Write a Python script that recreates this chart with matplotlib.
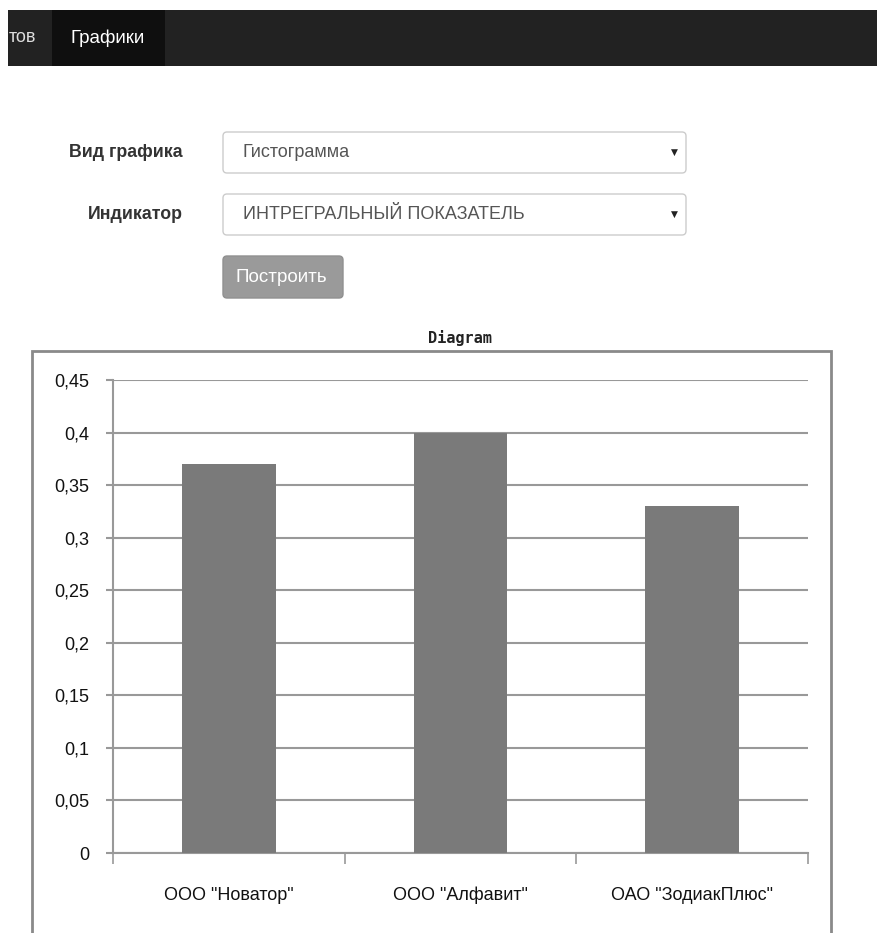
import matplotlib
matplotlib.use('Agg')
import matplotlib.pyplot as plt
from matplotlib.patches import Rectangle, FancyBboxPatch

W = 877
H = 933

# chart data
companies = ['ООО "Новатор"', 'ООО "Алфавит"', 'ОАО "ЗодиакПлюс"']
values = [0.37, 0.40, 0.33]
yticks = [0, 0.05, 0.1, 0.15, 0.2, 0.25, 0.3, 0.35, 0.4, 0.45]
ytick_labels = ['0', '0,05', '0,1', '0,15', '0,2', '0,25', '0,3', '0,35', '0,4', '0,45']

# form texts
nav_items = ['тов', 'Графики']
form_labels = ['Вид графика', 'Индикатор']
form_values = ['Гистограмма', 'ИНТРЕГРАЛЬНЫЙ ПОКАЗАТЕЛЬ']
button_text = 'Построить'
title = 'Diagram'

web_font = ['Liberation Sans', 'DejaVu Sans']
chart_font = ['Liberation Sans Narrow', 'Liberation Sans', 'DejaVu Sans']


def fx(px):
    return px / W


def fy(py):
    return 1 - py / H


def box(x0, y0, x1, y1, **kw):
    # rectangle in pixel coords (y from the top)
    return Rectangle((fx(x0), fy(y1)), fx(x1) - fx(x0), fy(y0) - fy(y1),
                     transform=fig.transFigure, **kw)


def rbox(x0, y0, x1, y1, r=4, **kw):
    return FancyBboxPatch((fx(x0), fy(y1)), fx(x1) - fx(x0), fy(y0) - fy(y1),
                          boxstyle='round,pad=0,rounding_size=%f' % (r / W),
                          transform=fig.transFigure, mutation_aspect=W / H, **kw)


fig = plt.figure(figsize=(W / 100, H / 100), dpi=100)
fig.patch.set_facecolor('white')

# navbar
fig.patches.append(box(8, 10, W, 66, facecolor='#222222', edgecolor='none'))
fig.patches.append(box(52, 10, 165, 66, facecolor='#0f0f0f', edgecolor='none'))
fig.text(fx(9), fy(38), nav_items[0], color='#dddddd', fontsize=13,
         family=web_font, va='center', ha='left')
fig.text(fx(71), fy(38), nav_items[1], color='#ffffff', fontsize=13.5,
         family=web_font, va='center', ha='left')

# form rows
rows_y = [(132, 173), (194, 235)]
for i in range(len(form_labels)):
    y0, y1 = rows_y[i]
    yc = (y0 + y1) / 2
    fig.text(fx(183), fy(yc), form_labels[i], color='#333333', fontsize=12.8,
             fontweight='bold', family=web_font, va='center', ha='right')
    fig.patches.append(rbox(223, y0, 686, y1, r=4, facecolor='white',
                            edgecolor='#cccccc', linewidth=1))
    fig.text(fx(243), fy(yc), form_values[i], color='#555555', fontsize=13,
             family=web_font, va='center', ha='left')
    fig.text(fx(674), fy(yc), '▼', color='#222222', fontsize=6.5,
             family=['DejaVu Sans'], va='center', ha='center')

fig.patches.append(rbox(223, 256, 343, 298, r=4, facecolor='#9a9a9a',
                        edgecolor='#909090', linewidth=1))
fig.text(fx(281), fy(277), button_text, color='white', fontsize=13.5,
         family=web_font, va='center', ha='center')

# chart frame
fig.patches.append(box(32, 351, 831, H + 5, facecolor='white',
                       edgecolor='#8a8a8a', linewidth=2))
fig.text(fx(460), fy(338), title, color='#222222', fontsize=11,
         fontweight='bold', family=['DejaVu Sans Mono'], va='center', ha='center')

ax = fig.add_axes([fx(113), fy(853), fx(808) - fx(113), fy(380) - fy(853)])
ax.set_zorder(5)
ax.set_facecolor('none')
x = list(range(len(companies)))
ax.bar(x, values, width=0.405, color='#7a7a7a', zorder=3)
ax.set_xlim(-0.5, len(companies) - 0.5)
ax.set_ylim(0, 0.45)

ax.set_yticks(yticks)
ax.set_yticklabels(ytick_labels, family=chart_font, fontsize=13, color='#111111')
ax.yaxis.grid(True, color='#999999', linewidth=1.5, zorder=0)
ax.tick_params(axis='y', length=5, width=1.5, color='#999999', pad=12)

# category boundaries as major ticks, names on minor ticks
ax.set_xticks([i - 0.5 for i in range(len(companies) + 1)])
ax.set_xticklabels([])
ax.set_xticks(x, minor=True)
ax.set_xticklabels(companies, minor=True, family=chart_font, fontsize=13,
                   color='#111111')
for lbl in ax.get_xticklabels(minor=True):
    lbl.set_verticalalignment('baseline')
ax.tick_params(axis='x', which='major', length=8, width=1.2, color='#999999')
ax.tick_params(axis='x', which='minor', length=0, pad=34)

for s in ['top', 'right']:
    ax.spines[s].set_visible(False)
for s in ['left', 'bottom']:
    ax.spines[s].set_color('#999999')
    ax.spines[s].set_linewidth(1.5)

fig.savefig('out.png', dpi=100)
